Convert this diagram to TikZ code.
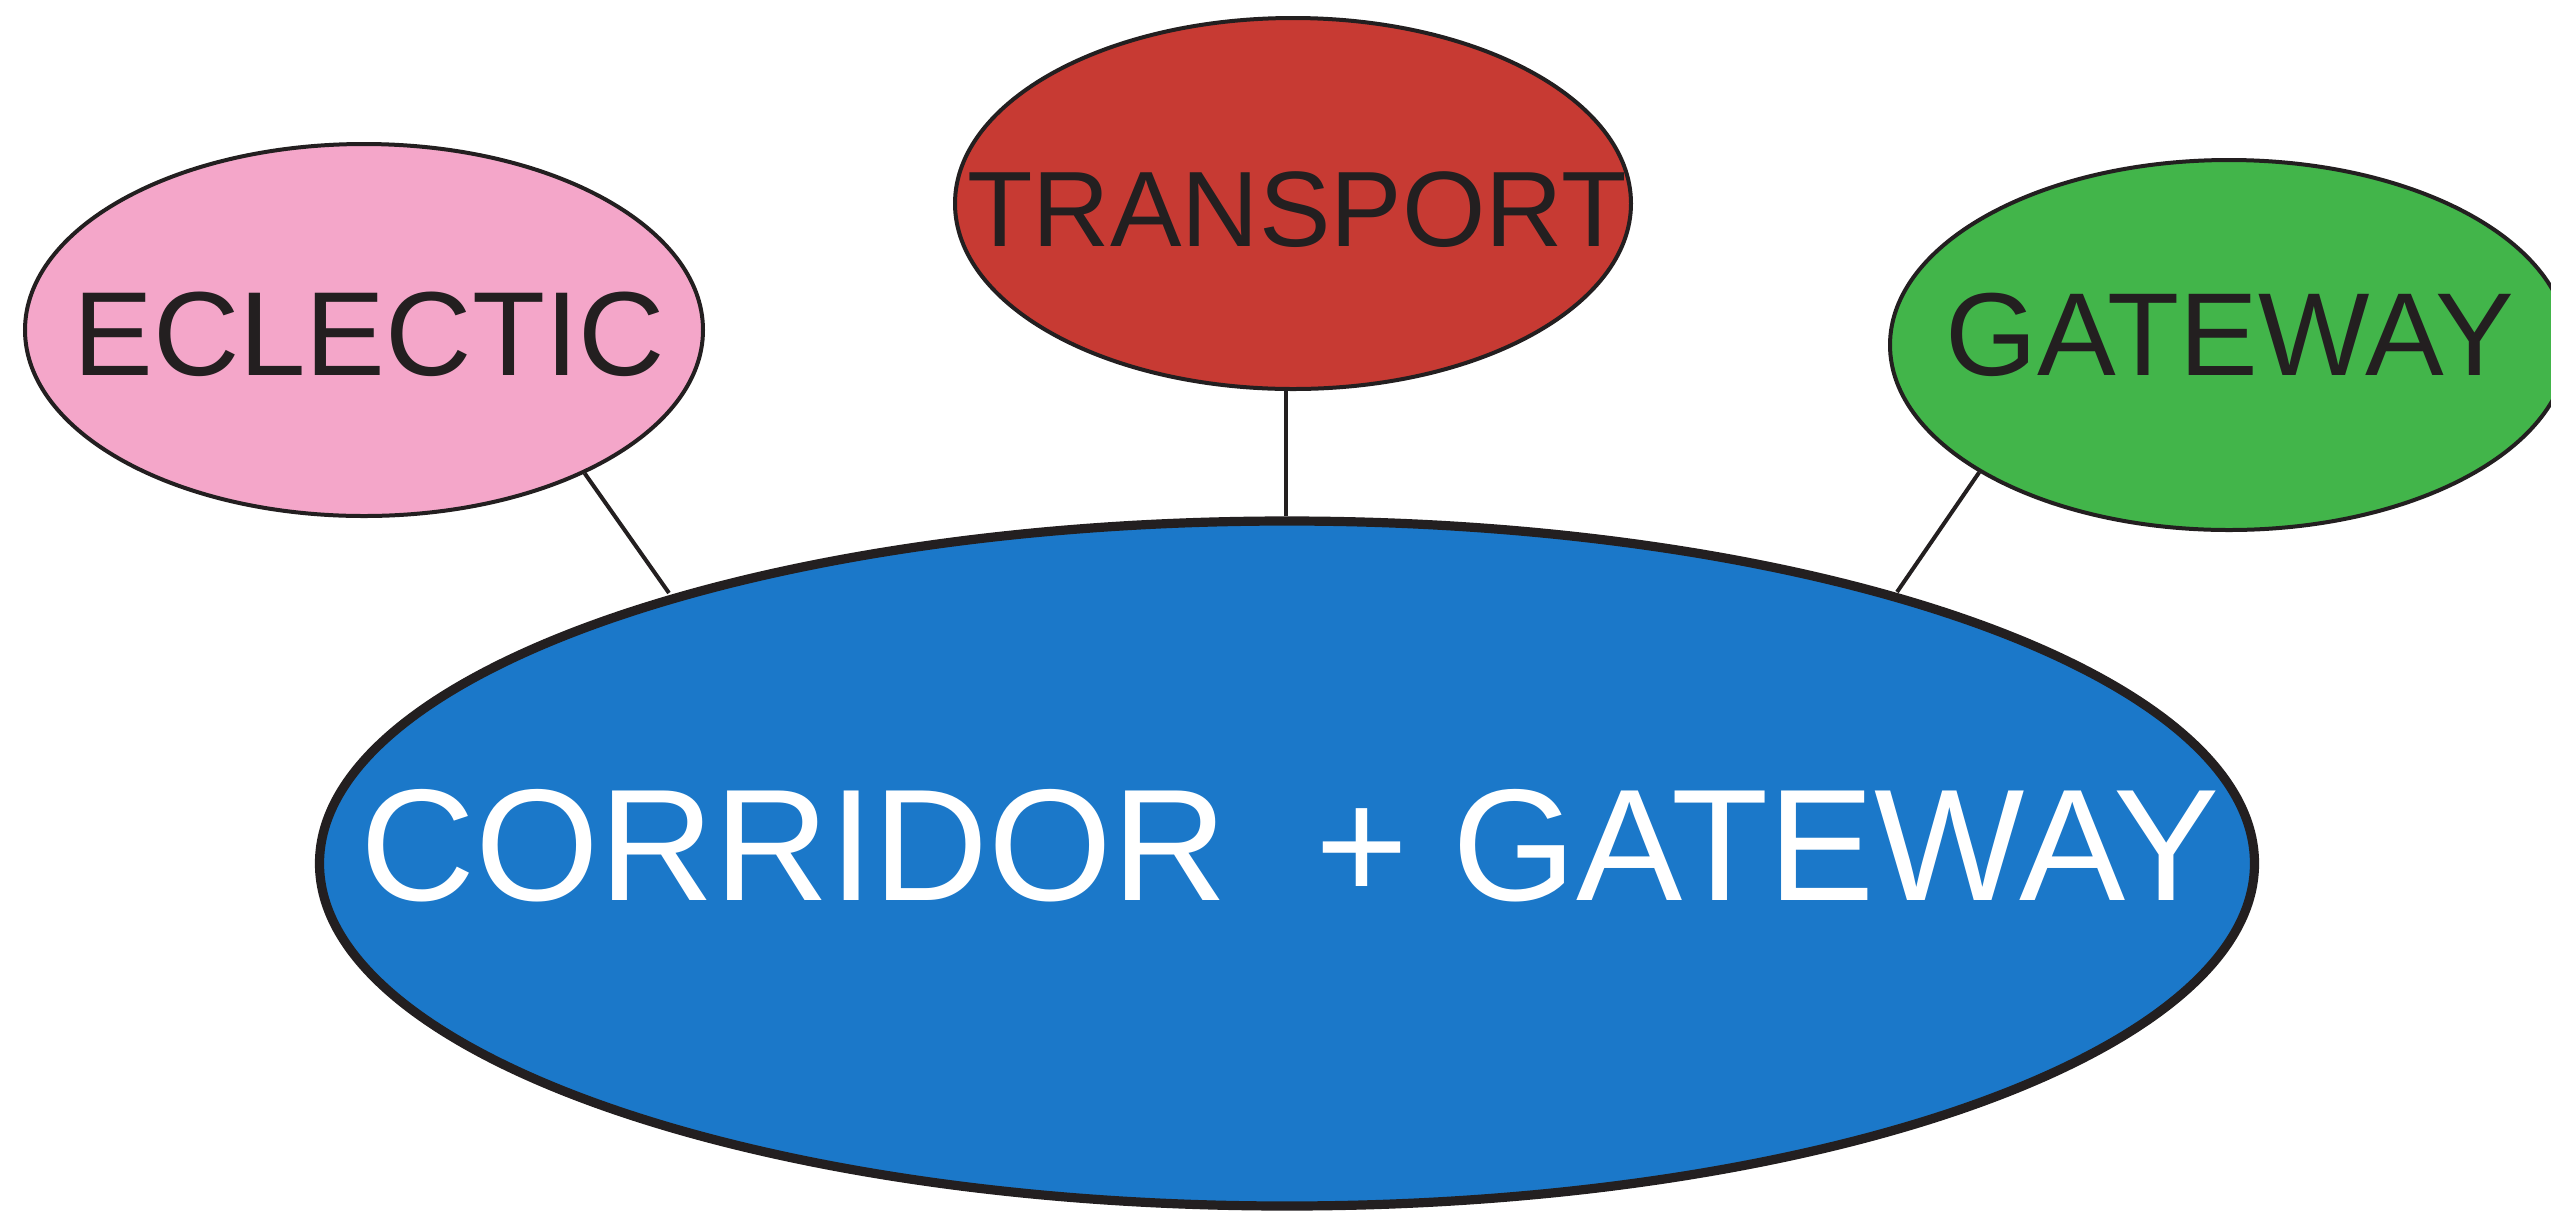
\documentclass[tikz,border=0pt]{standalone}
\usepackage{fontspec}
\setmainfont{Liberation Sans}
\usetikzlibrary{shapes.geometric}
\definecolor{cpink}{HTML}{F4A6C9}
\definecolor{cred}{HTML}{C73A33}
\definecolor{cgreen}{HTML}{42B54A}
\definecolor{cblue}{HTML}{1B78C9}
\definecolor{cline}{HTML}{231F20}
\begin{document}
\begin{tikzpicture}[x=0.25pt,y=-0.25pt,
  ell/.style={ellipse, draw=cline, line width=1pt, inner sep=0pt},
  small/.style={ell, minimum width=169.5pt, minimum height=93pt},
  lbl/.style={anchor=base, inner sep=0pt, text=cline},
  conn/.style={draw=cline, line width=1pt}]
\useasboundingbox (0,0) rectangle (2551,1212);
% ellipses
\node[small, fill=cpink] (ecl) at (364,330) {};
\node[small, fill=cred, minimum width=169pt, minimum height=92.75pt] (tra) at (1293,203.5) {};
\node[small, fill=cgreen, minimum height=92.5pt] (gat) at (2229,345) {};
\node[ell, fill=cblue, line width=2.3pt, minimum width=483.75pt, minimum height=171.25pt] (cor) at (1287,863.5) {};
% connector end points on the corridor outline
\coordinate (corEcl) at (669,593);
\coordinate (corGat) at (1897,592);
% labels
\node[lbl, font=\fontsize{29.9pt}{30pt}\selectfont] (eclt) at (369,375) {ECLECTIC};
\node[lbl, font=\fontsize{26.8pt}{27pt}\selectfont] (trat) at (1297,246) {TRANSPORT};
\node[lbl, font=\fontsize{29.5pt}{30pt}\selectfont] (gatt) at (2230,375) {GATEWAY};
\node[lbl, text=white, font=\fontsize{39.8pt}{40pt}\selectfont] (cort) at (1290,900) {CORRIDOR\ \ + GATEWAY};
% connectors
\draw[conn] (ecl.-33.2) -- (corEcl);
\draw[conn] (tra.-92.6) -- (tra.-92.6 |- cor.north);
\draw[conn] (gat.-153) -- (corGat);
\end{tikzpicture}
\end{document}
